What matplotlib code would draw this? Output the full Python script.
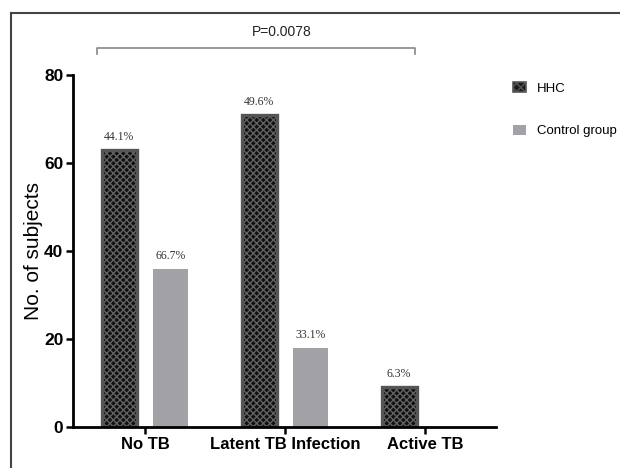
import matplotlib
matplotlib.use("Agg")
import matplotlib.pyplot as plt
import numpy as np
from matplotlib.patches import Patch
from matplotlib.lines import Line2D

categories = ["No TB", "Latent TB Infection", "Active TB"]
hhc = [63, 71, 9]
control = [36, 18, 0]
hhc_pct = ["44.1%", "49.6%", "6.3%"]
control_pct = ["66.7%", "33.1%", ""]
p_text = "P=0.0078"

sans = ["Liberation Sans", "DejaVu Sans"]
serif = ["Liberation Serif", "DejaVu Serif"]
plt.rcParams["hatch.linewidth"] = 1.0

fig = plt.figure(figsize=(6.2, 4.68), dpi=100)
ax = fig.add_axes([0.1177, 0.0876, 0.6823, 0.752])

x = np.arange(len(categories))
w = 0.25
off = 0.185

# hatched fill, then outline on top
ax.bar(x - off, hhc, w, color="#101010", edgecolor="#626262", hatch="xxxxx", lw=0)
ax.bar(x - off, hhc, w, fill=False, edgecolor="#555555", lw=2.4)
ax.bar(x + off, control, w, color="#a2a2a6", lw=0)

for xi, v, t in zip(x - off, hhc, hhc_pct):
    ax.text(xi, v + 1.6, t, ha="center", va="bottom", fontsize=8.5,
            family=serif, color="#333333")
for xi, v, t in zip(x + off, control, control_pct):
    if t:
        ax.text(xi, v + 1.6, t, ha="center", va="bottom", fontsize=8.5,
                family=serif, color="#333333")

ax.set_xlim(-0.514, 2.507)
ax.set_ylim(0, 80)
ax.set_yticks([0, 20, 40, 60, 80])
ax.set_xticks(x)
ax.set_xticklabels(categories, fontsize=12, fontweight="bold", family=sans)
for lab in ax.get_yticklabels():
    lab.set_fontsize(12.5)
    lab.set_fontweight("bold")
    lab.set_family(sans)
ax.tick_params(axis="both", width=1.8, length=5, pad=2, colors="black")
ax.set_ylabel("No. of subjects", fontsize=15, family=sans)
ax.yaxis.set_label_coords(-0.071, 0.5)
ax.spines[["top", "right"]].set_visible(False)
for s in ["left", "bottom"]:
    ax.spines[s].set_linewidth(2)

# significance bracket
bx = [-0.343, -0.343, 1.93, 1.93]
by = [84.8, 86.2, 86.2, 84.8]
ax.plot(bx, by, color="#888888", lw=1.2, clip_on=False)
ax.text(0.98, 88.2, p_text, ha="center", va="bottom", fontsize=10,
        family=sans, color="#222222", clip_on=False)

handles = [Patch(facecolor="#1c1c1c", edgecolor="#575757", hatch="xxxx", lw=1.2, label="HHC"),
           Patch(facecolor="#a2a2a6", edgecolor="none", label="Control group")]
fig.legend(handles=handles, loc="upper left", bbox_to_anchor=(0.827, 0.824),
           frameon=False, borderpad=0, borderaxespad=0, handlelength=1.0,
           handleheight=0.8, handletextpad=0.85, labelspacing=2.25,
           prop={"family": sans, "size": 9.5})

# outer frame
fig.add_artist(Line2D([0.0177, 0.0177], [0, 0.972], color="#444444", lw=1.5))
fig.add_artist(Line2D([0.0177, 1.0], [0.972, 0.972], color="#444444", lw=1.5))

fig.savefig("out.png", dpi=100)
